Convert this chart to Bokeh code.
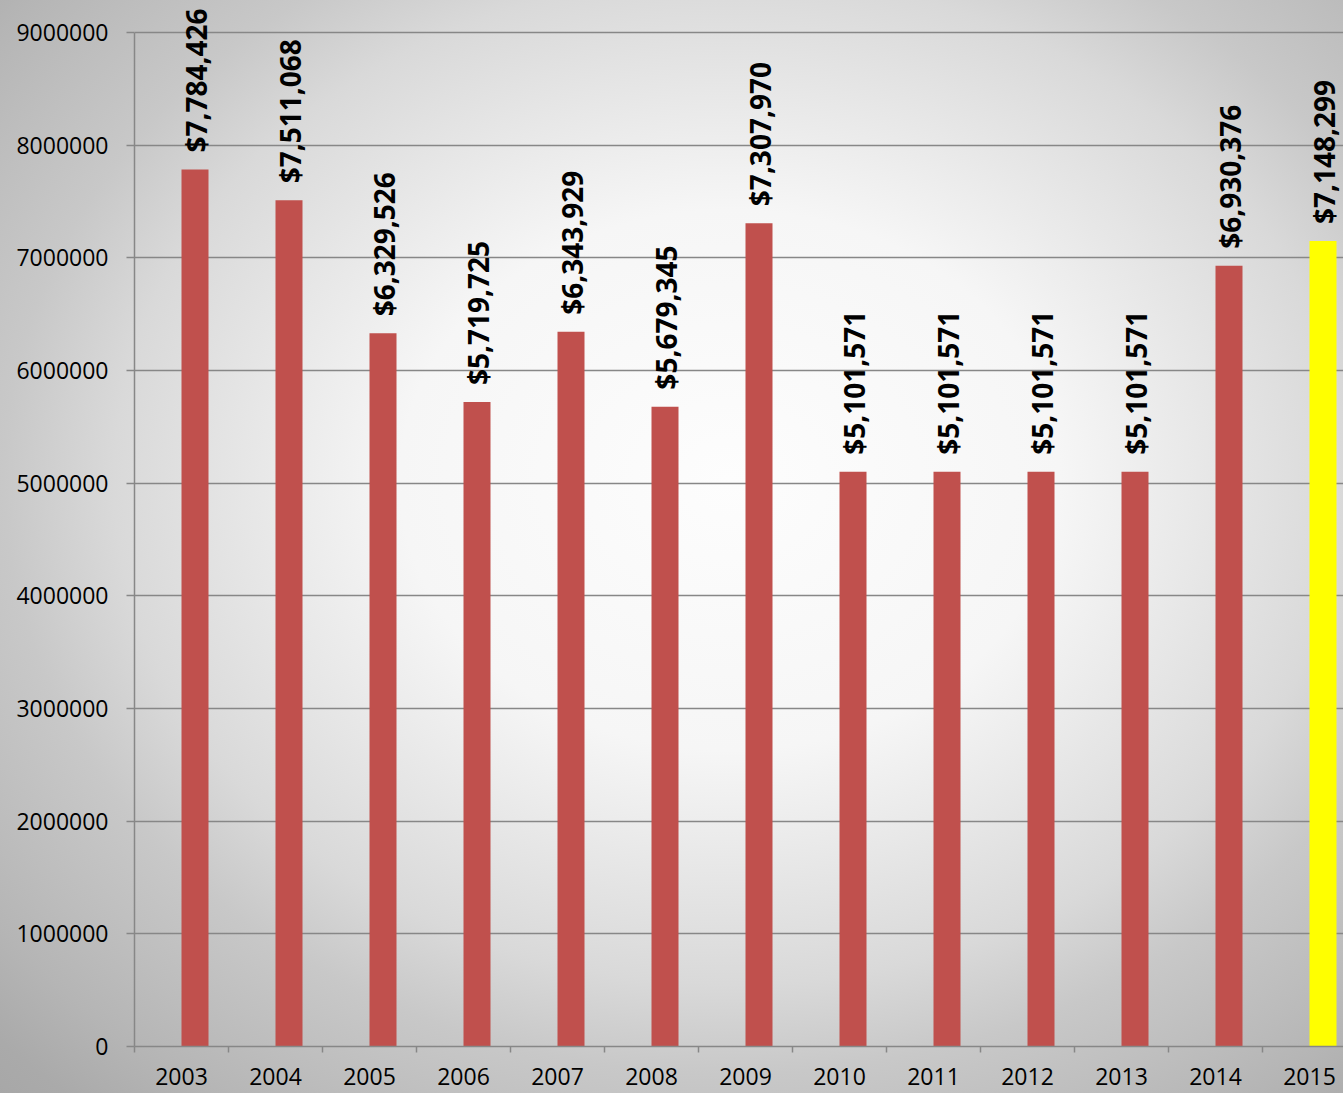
import math
from bokeh.plotting import figure
from bokeh.models import Range1d, FixedTicker, ColumnDataSource
from bokeh.core.properties import value
from bokeh.embed import file_html
from bokeh.resources import INLINE

# ---- data ----
years = ["2003", "2004", "2005", "2006", "2007", "2008", "2009",
         "2010", "2011", "2012", "2013", "2014", "2015"]
amounts = [7784426, 7511068, 6329526, 5719725, 6343929, 5679345, 7307970,
           5101571, 5101571, 5101571, 5101571, 6930376, 7148299]
highlight_year = "2015"
y_ticks = [0, 1000000, 2000000, 3000000, 4000000, 5000000,
           6000000, 7000000, 8000000, 9000000]

# ---- layout constants ----
W, H = 1343, 1093
LEFT = 134
FRAME_BOTTOM = 1046
CAT_PX = 94.0
BAR_PX = 27.0
Y_MAX = 9000000
Y_TOP_PX = 32  # canvas y of 9,000,000

frame_w = W - LEFT
x_range = Range1d(-0.5, -0.5 + frame_w / CAT_PX)
y_range = Range1d(0, Y_MAX * FRAME_BOTTOM / (FRAME_BOTTOM - Y_TOP_PX))

RED = "#C0504D"
YELLOW = "#FFFF00"
GRID = "#878787"

bar_w = BAR_PX / CAT_PX
idx = list(range(len(years)))
src = ColumnDataSource(dict(
    x=[i + bar_w / 2 for i in idx],
    top=amounts,
    label=[f"${v:,}" for v in amounts],
    color=[YELLOW if y == highlight_year else RED for y in years],
))

p = figure(width=W, height=H, x_range=x_range, y_range=y_range,
           output_backend="svg", toolbar_location=None,
           min_border_left=LEFT, min_border_right=0, min_border_top=0,
           min_border_bottom=H - FRAME_BOTTOM,
           background_fill_color=None, border_fill_color=None,
           outline_line_color=None)

p.styles = {"background": "radial-gradient(ellipse 1100px 900px at 730px 480px, "
            "#fdfdfd 0%, #f6f6f6 30%, #d9d9d9 56%, #c8c8c8 66%, #bdbdbd 76%, "
            "#b5b5b5 83%, #aaaaaa 91%, #9e9e9e 110%)"}

p.vbar(x="x", top="top", bottom=0, width=bar_w, fill_color="color",
       line_color=None, source=src)

p.text(x="x", y="top", text="label", source=src, angle=math.pi / 2,
       text_align="left", text_baseline="middle", x_offset=1, y_offset=-17,
       text_font=value("Open Sans"), text_font_style="bold",
       text_font_size="28px", text_color="black")

# y axis
ya = p.yaxis[0]
ya.ticker = FixedTicker(ticks=y_ticks)
ya.bounds = (0, Y_MAX)
ya.major_label_overrides = {t: str(t) for t in y_ticks}
ya.axis_line_color = GRID
ya.axis_line_width = 1.5
ya.major_tick_line_color = GRID
ya.major_tick_line_width = 1.5
ya.major_tick_out = 8
ya.major_tick_in = 0
ya.minor_tick_line_color = None
ya.major_label_standoff = 18
ya.major_label_text_font = "Open Sans"
ya.major_label_text_font_size = "23px"
ya.major_label_text_color = "black"

# x axis
xa = p.xaxis[0]
xa.ticker = FixedTicker(ticks=idx, minor_ticks=[i - 0.5 for i in range(len(years) + 1)])
xa.major_label_overrides = {i: years[i] for i in idx}
xa.axis_line_color = GRID
xa.axis_line_width = 1.5
xa.major_tick_line_color = None
xa.major_tick_out = 0
xa.major_tick_in = 0
xa.minor_tick_line_color = GRID
xa.minor_tick_line_width = 1.5
xa.minor_tick_out = 6
xa.minor_tick_in = 0
xa.major_label_standoff = 15
xa.major_label_text_font = "Open Sans"
xa.major_label_text_font_size = "23px"
xa.major_label_text_color = "black"

p.xgrid.visible = False
p.ygrid.ticker = FixedTicker(ticks=y_ticks)
p.ygrid.grid_line_color = GRID
p.ygrid.grid_line_width = 1.5

open("out.html", "w").write(file_html(p, INLINE))
